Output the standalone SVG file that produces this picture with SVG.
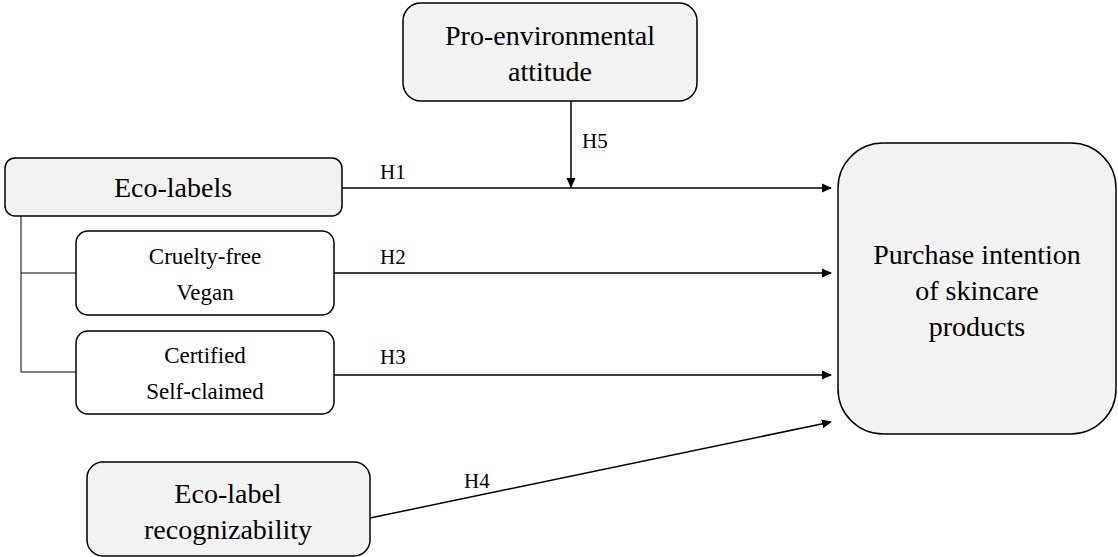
<svg xmlns="http://www.w3.org/2000/svg" width="1118" height="557" viewBox="0 0 1118 557">
<style>
.g{fill:#f2f2f2;stroke:#000;stroke-width:1.5}
.w{fill:#fff;stroke:#000;stroke-width:1.5}
text{font-family:"Liberation Serif","Times New Roman",serif;fill:#000;text-anchor:middle}
.big{font-size:28px}
.mid{font-size:23px}
.lab{font-size:21px;text-anchor:start}
.c{stroke:#000;stroke-width:1.5;fill:none}
.t{stroke:#000;stroke-width:1;fill:none}
</style>
<defs>
<marker id="ah" markerWidth="10" markerHeight="10" refX="9" refY="5" orient="auto" markerUnits="userSpaceOnUse">
<path d="M0,0.5 L10,5 L0,9.5 Z" fill="#000"/>
</marker>
</defs>
<rect width="1118" height="557" fill="#fff"/>
<g id="pro"><rect class="g" x="403" y="3" width="294" height="98" rx="18"/><text class="big" x="550" y="45">Pro-environmental</text><text class="big" x="550" y="81">attitude</text></g>
<g id="eco"><rect class="g" x="5" y="158" width="337" height="58" rx="10"/><text class="big" x="173" y="197">Eco-labels</text></g>
<g id="cruelty"><rect class="w" x="76" y="231" width="258" height="84" rx="12"/><text class="mid" x="205" y="264">Cruelty-free</text><text class="mid" x="205" y="300">Vegan</text></g>
<g id="certified"><rect class="w" x="76" y="331" width="258" height="83" rx="12"/><text class="mid" x="205" y="363">Certified</text><text class="mid" x="205" y="399">Self-claimed</text></g>
<g id="recog"><rect class="g" x="87" y="462" width="283" height="94" rx="16"/><text class="big" x="228" y="503">Eco-label</text><text class="big" x="228" y="539">recognizability</text></g>
<g id="purchase"><rect class="g" x="838" y="143" width="278" height="291" rx="45"/><text class="big" x="977" y="264">Purchase intention</text><text class="big" x="977" y="300">of skincare</text><text class="big" x="977" y="336">products</text></g>
<g id="connectors">
<polyline class="t" points="21,216 21,372 76,372"/>
<line class="t" x1="21" y1="273" x2="76" y2="273"/>
<line class="c" x1="342" y1="188" x2="831" y2="188" marker-end="url(#ah)"/>
<line class="c" x1="334" y1="273" x2="831" y2="273" marker-end="url(#ah)"/>
<line class="c" x1="334" y1="375" x2="831" y2="375" marker-end="url(#ah)"/>
<line class="c" x1="370" y1="518" x2="831" y2="422" marker-end="url(#ah)"/>
<line class="c" x1="571" y1="101" x2="571" y2="187" marker-end="url(#ah)"/>
<text class="lab" x="380" y="179">H1</text>
<text class="lab" x="380" y="264">H2</text>
<text class="lab" x="380" y="364">H3</text>
<text class="lab" x="464" y="488">H4</text>
<text class="lab" x="582" y="148">H5</text>
</g>
</svg>
